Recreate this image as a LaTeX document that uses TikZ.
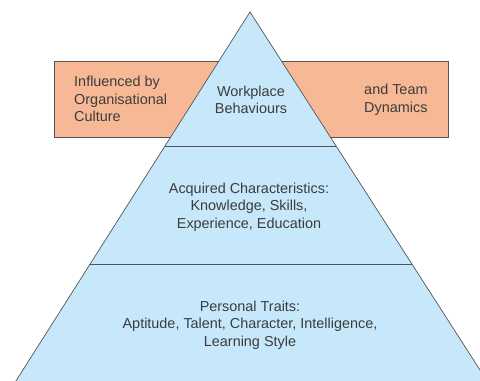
\documentclass[tikz,border=0pt]{standalone}
\usepackage{fontspec}
\setmainfont{Liberation Sans}
\usetikzlibrary{positioning}

\definecolor{layerblue}{RGB}{199,232,250}
\definecolor{bandorange}{RGB}{247,184,150}
\definecolor{edgegray}{RGB}{85,85,85}
\definecolor{textgray}{RGB}{60,60,60}

\tikzset{
    label text/.style={text=textgray, font=\fontsize{12.3}{15}\selectfont, inner sep=0},
    layer line/.style={draw=edgegray, line width=0.6pt}
}

\begin{document}
\begin{tikzpicture}[x=0.03cm, y=-0.03cm]
                \useasboundingbox (0,0) rectangle (480,380);
                \fill[white] (0,0) rectangle (480,380);
                \clip (0,0) rectangle (480,380);

                % Draw influence band
                \draw[layer line, fill=bandorange] (54,61) rectangle (448,137);

                % Draw pyramid
                \coordinate (apex) at (250,12);
                \coordinate (baseL) at (14,384);
                \coordinate (baseR) at (489,384);
                \draw[layer line, fill=layerblue] (apex) -- (baseL) -- (baseR) -- cycle;

                % Draw layer borders
                \coordinate (upperL) at (165,146);
                \coordinate (upperR) at (336,146);
                \coordinate (lowerL) at (89,264);
                \coordinate (lowerR) at (412,264);
                \draw[layer line] (upperL) -- (upperR);
                \draw[layer line] (lowerL) -- (lowerR);

                % Draw labels
                \node[label text, align=left, anchor=west] (culture) at (74,99) {Influenced by\\Organisational\\Culture};
                \node[label text, align=center] (behaviours) at (251,100) {Workplace\\Behaviours};
                \node[label text, align=left, anchor=west] (team) at (364,100) {and Team\\Dynamics};
                \node[label text, align=center] (acquired) at (249,207) {Acquired Characteristics:\\Knowledge, Skills,\\Experience, Education};
                \node[label text, align=center] (traits) at (250,325) {Personal Traits:\\Aptitude, Talent, Character, Intelligence,\\Learning Style};
            \end{tikzpicture}
\end{document}
